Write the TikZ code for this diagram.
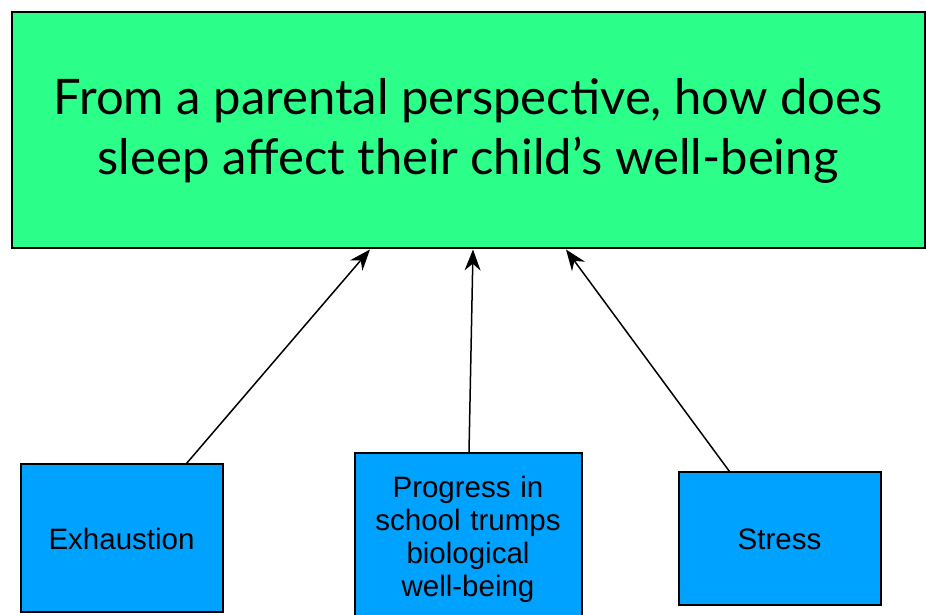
\documentclass[tikz,border=0pt]{standalone}
\usepackage{fontspec}
\setmainfont{Liberation Sans}
\newfontfamily\titlefont{Lato}
\usetikzlibrary{arrows.meta}

\definecolor{titlegreen}{HTML}{2BFF8A}
\definecolor{factorblue}{HTML}{00A2FF}

\tikzset{
  question/.style={draw=black, line width=2pt, fill=titlegreen, inner sep=0pt,
    align=center, font=\titlefont\fontsize{49}{60}\selectfont},
  factor/.style={draw=black, line width=2pt, fill=factorblue, inner sep=0pt,
    align=center, font=\fontsize{29.5}{33}\selectfont},
  link/.style={line width=1.5pt, -{Stealth[length=21pt,width=16pt]}}
}

\begin{document}
\begin{tikzpicture}[x=1pt,y=1pt]
    \useasboundingbox (0,0) rectangle (926,615);
    % question
    \node[question, minimum width=913pt, minimum height=236pt] (q) at (468,484.5)
      {From a parental perspective, how does\\sleep affect their child’s well-being};
    % factors
    \node[factor, minimum width=202pt, minimum height=148pt] (exh) at (121.5,76.5) {Exhaustion};
    \node[factor, minimum width=227pt, minimum height=172pt, text width=220pt] (prog) at (468,76)
      {Progress in\\school trumps\\biological\\well-being};
    \node[factor, minimum width=202pt, minimum height=133pt] (stress) at (779.5,76) {Stress};
    % links
    \draw[link] ([xshift=65pt]exh.north) -- ([xshift=-98pt]q.south);
    \draw[link] ([xshift=1pt]prog.north) -- ([xshift=5pt]q.south);
    \draw[link] ([xshift=-50pt]stress.north) -- ([xshift=98pt]q.south);
\end{tikzpicture}
\end{document}
